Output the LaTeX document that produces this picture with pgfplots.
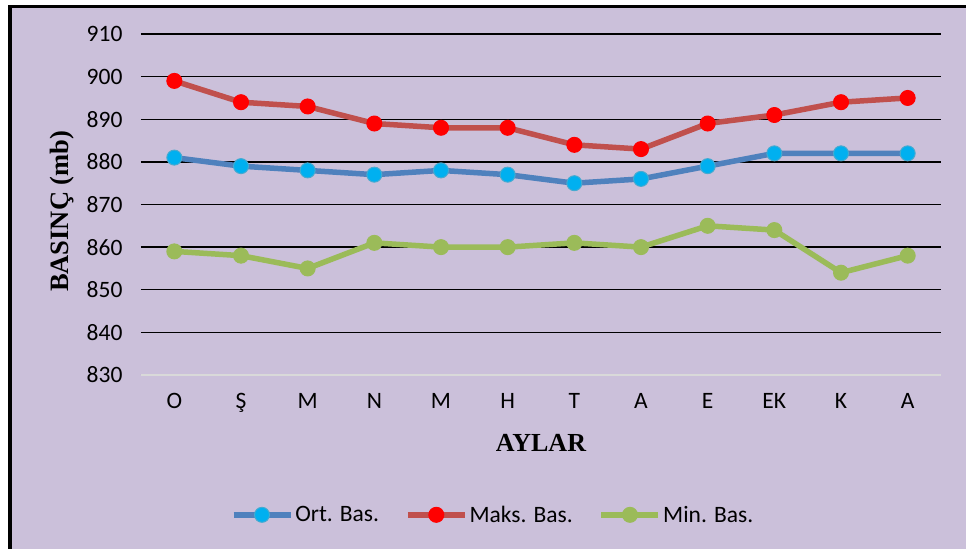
\documentclass[border=0pt]{standalone}
\usepackage{pgfplots}
\pgfplotsset{compat=1.18}
\usepackage{fontspec}
\setmainfont{Carlito}
\newfontfamily\timesfont{Liberation Serif}
\definecolor{bg}{HTML}{CBC0DA}
\definecolor{ortline}{HTML}{4F81BD}
\definecolor{ortmark}{HTML}{00B0F0}
\definecolor{ortedge}{HTML}{46AAD0}
\definecolor{maxline}{HTML}{C0504D}
\definecolor{maxmark}{HTML}{FF0000}
\definecolor{minline}{HTML}{9BBB59}
\definecolor{axgray}{HTML}{D9D9D9}
\begin{document}
\begin{tikzpicture}
\fill[white] (-141pt,-174pt) rectangle (825pt,375pt);
\fill[bg] (-129pt,-174pt) rectangle (825pt,367pt);
\fill[black] (-133pt,-174pt) rectangle (-129pt,370pt);
\fill[black] (-133pt,367pt) rectangle (825pt,370pt);
\begin{axis}[
  at={(0pt,0pt)}, anchor=south west,
  scale only axis, width=800pt, height=341pt,
  xmin=-0.5, xmax=11.5, ymin=830, ymax=910,
  ytick={830,840,...,910},
  xtick={0,...,11},
  xticklabels={O,Ş,M,N,M,H,T,A,E,EK,K,A},
  major tick length=0pt,
  ymajorgrids, grid style={black, line width=1.4pt},
  axis line style={draw=none},
  tick label style={font=\fontsize{23.5}{28}\selectfont},
  /pgf/number format/assume math mode=true,
  yticklabel style={xshift=-15pt},
  xticklabel style={yshift=-15pt},
  xlabel={\timesfont\bfseries AYLAR},
  xlabel style={at={(axis description cs:0.5,-0.2)}, anchor=center, font=\fontsize{26}{30}\selectfont},
  ylabel={\timesfont\bfseries BASINÇ (mb)},
  ylabel style={at={(axis description cs:-0.099,0.48)}, anchor=center, font=\fontsize{26.5}{30}\selectfont},
  legend columns=3,
  legend style={at={(axis description cs:0.44,-0.41)}, anchor=center, draw=none, fill=none,
    font=\fontsize{23.5}{28}\selectfont,
    /tikz/every even column/.append style={column sep=24pt}},
  legend image code/.code={\draw[mark repeat=2, mark phase=2] plot coordinates {(0pt,0pt) (28.5pt,0pt) (57pt,0pt)};},
  every axis plot/.append style={line width=5.5pt, line join=round, mark=*, mark size=7.5pt},
]
\draw[axgray, line width=1.4pt] (axis cs:-0.5,830) -- (axis cs:11.5,830);
\addplot[color=ortline, mark options={fill=ortmark, draw=ortedge, line width=1pt}] coordinates {
(0,881) (1,879) (2,878) (3,877) (4,878) (5,877) (6,875) (7,876) (8,879) (9,882) (10,882) (11,882)};
\addlegendentry{Ort. Bas.}
\addplot[color=maxline, mark options={fill=maxmark, draw=maxmark, line width=1pt}] coordinates {
(0,899) (1,894) (2,893) (3,889) (4,888) (5,888) (6,884) (7,883) (8,889) (9,891) (10,894) (11,895)};
\addlegendentry{Maks. Bas.}
\addplot[color=minline, mark options={fill=minline, draw=minline, line width=1pt}] coordinates {
(0,859) (1,858) (2,855) (3,861) (4,860) (5,860) (6,861) (7,860) (8,865) (9,864) (10,854) (11,858)};
\addlegendentry{Min. Bas.}
\end{axis}
\end{tikzpicture}
\end{document}
